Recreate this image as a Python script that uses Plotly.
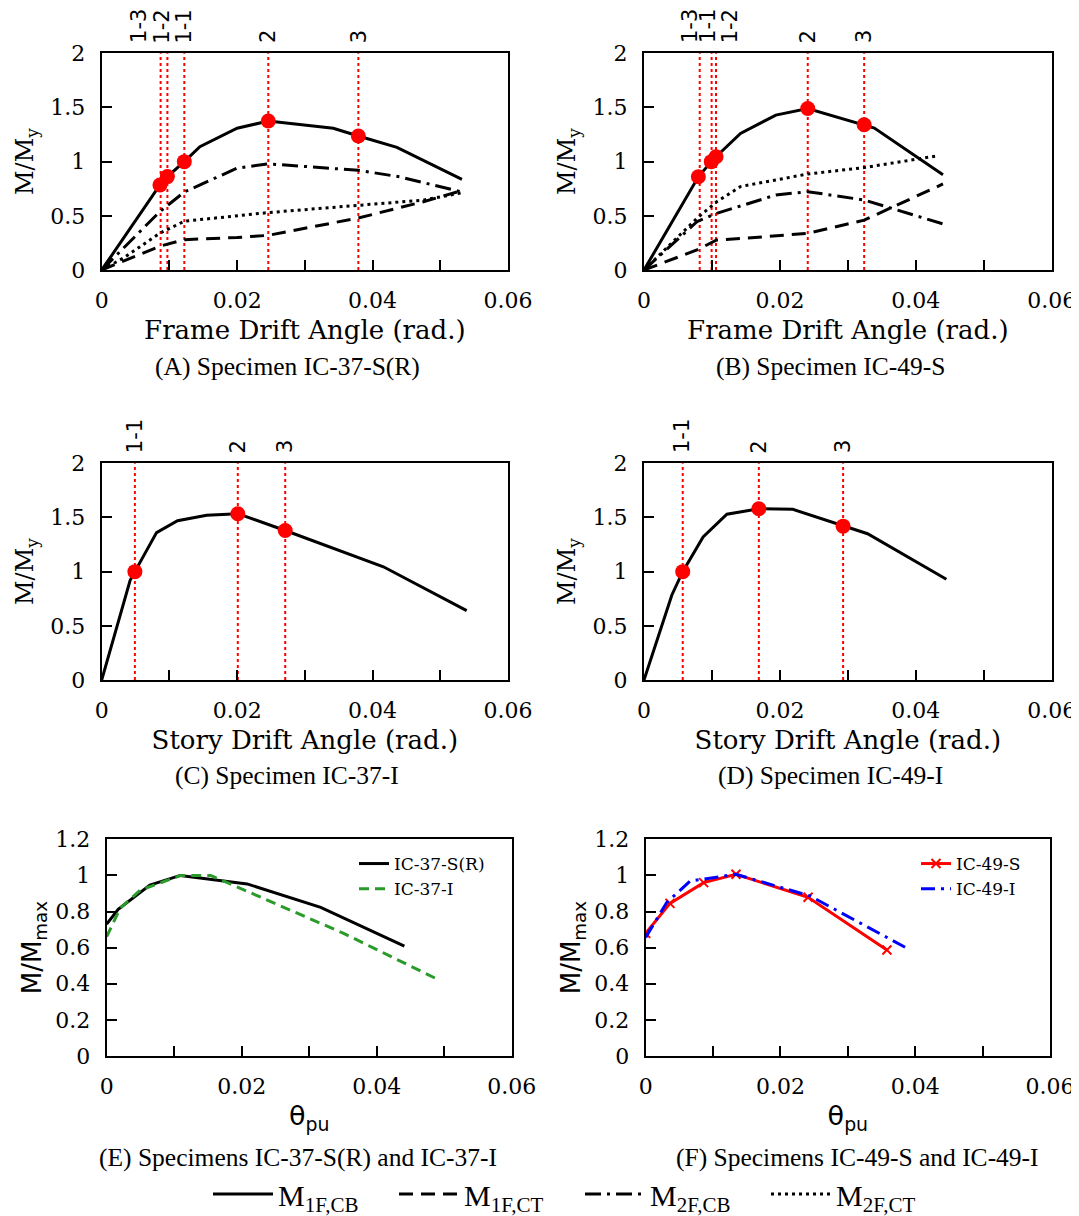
import plotly.graph_objects as go

W, H = 1071, 1216   # figure size; the page body adds an 8 px margin
OFF = 8

# ---------------- Data ----------------
# (A) Specimen IC-37-S(R) - frame drift angle
a_1fcb_x = [0, 0.0086, 0.0097, 0.0122, 0.0145, 0.0200, 0.0246, 0.0342, 0.0379, 0.0436, 0.0532]
a_1fcb_y = [0, 0.785, 0.862, 1.0, 1.138, 1.308, 1.375, 1.308, 1.237, 1.132, 0.837]
a_marker_idx = [1, 2, 3, 6, 8]
a_1fct_x = [0, 0.0086, 0.0122, 0.0200, 0.0246, 0.0379, 0.0475, 0.0530]
a_1fct_y = [0, 0.22, 0.28, 0.30, 0.32, 0.48, 0.63, 0.73]
a_2fcb_x = [0, 0.0086, 0.0122, 0.0200, 0.0246, 0.0379, 0.0440, 0.0532]
a_2fcb_y = [0, 0.54, 0.72, 0.94, 0.98, 0.92, 0.86, 0.72]
a_2fct_x = [0, 0.0032, 0.0086, 0.0122, 0.0246, 0.0379, 0.0475, 0.0530]
a_2fct_y = [0, 0.11, 0.34, 0.45, 0.53, 0.60, 0.645, 0.71]
a_vlines = [0.0087, 0.0097, 0.0122, 0.0246, 0.0379]
a_vlabels = ["1-3", "1-2", "1-1", "2", "3"]

# (B) Specimen IC-49-S
b_1fcb_x = [0, 0.0080, 0.0099, 0.0106, 0.0142, 0.0194, 0.0241, 0.0324, 0.0339, 0.0440]
b_1fcb_y = [0, 0.86, 1.0, 1.045, 1.26, 1.43, 1.49, 1.34, 1.31, 0.88]
b_marker_idx = [1, 2, 3, 6, 7]
b_1fct_x = [0, 0.0078, 0.0107, 0.0142, 0.0241, 0.0324, 0.0440]
b_1fct_y = [0, 0.185, 0.277, 0.29, 0.338, 0.46, 0.794]
b_2fcb_x = [0, 0.0078, 0.0107, 0.0194, 0.0241, 0.0324, 0.0440]
b_2fcb_y = [0, 0.446, 0.523, 0.692, 0.723, 0.646, 0.425]
b_2fct_x = [0, 0.0078, 0.0107, 0.0142, 0.0241, 0.0324, 0.0430]
b_2fct_y = [0, 0.477, 0.63, 0.77, 0.886, 0.945, 1.052]
b_vlines = [0.0082, 0.00995, 0.0106, 0.0241, 0.0324]
b_vlabels = ["1-3", "1-1", "1-2", "2", "3"]

# (C) Specimen IC-37-I - story drift angle
c_x = [0, 0.0042, 0.0049, 0.0081, 0.0112, 0.0155, 0.0201, 0.0271, 0.0416, 0.0539]
c_y = [0, 0.92, 1.0, 1.36, 1.47, 1.52, 1.535, 1.38, 1.045, 0.64]
c_marker_idx = [2, 6, 7]
c_vlines = [0.0049, 0.0201, 0.0271]
c_vlabels = ["1-1", "2", "3"]

# (D) Specimen IC-49-I
d_x = [0, 0.0041, 0.0057, 0.0087, 0.0122, 0.0169, 0.0219, 0.0293, 0.0329, 0.0445]
d_y = [0, 0.785, 1.0, 1.32, 1.53, 1.58, 1.575, 1.42, 1.35, 0.93]
d_marker_idx = [2, 5, 7]
d_vlines = [0.0057, 0.0169, 0.0293]
d_vlabels = ["1-1", "2", "3"]

# (E) M/Mmax vs theta_pu
e_sr_x = [0, 0.0017, 0.0064, 0.0109, 0.0208, 0.0317, 0.0441]
e_sr_y = [0.731, 0.812, 0.947, 1.0, 0.953, 0.823, 0.609]
e_i_x = [0, 0.0020, 0.0050, 0.0109, 0.0154, 0.0198, 0.0272, 0.0351, 0.0490]
e_i_y = [0.661, 0.818, 0.919, 0.999, 1.0, 0.929, 0.809, 0.679, 0.425]

# (F)
f_s_x = [0, 0.0036, 0.0086, 0.0134, 0.0241, 0.0358]
f_s_y = [0.679, 0.845, 0.960, 1.006, 0.879, 0.587]
f_i_x = [0, 0.0031, 0.0066, 0.0134, 0.0244, 0.0385]
f_i_y = [0.657, 0.849, 0.969, 1.006, 0.886, 0.602]

series_names = ["M<sub>1F,CB</sub>", "M<sub>1F,CT</sub>", "M<sub>2F,CB</sub>", "M<sub>2F,CT</sub>"]

captions = ["(A) Specimen IC-37-S(R)", "(B) Specimen IC-49-S",
            "(C) Specimen IC-37-I", "(D) Specimen IC-49-I",
            "(E) Specimens IC-37-S(R) and IC-37-I", "(F) Specimens IC-49-S and IC-49-I"]

# ---------------- Styles ----------------
series_dash = ["solid", "14px,8px", "16px,6px,3px,6px", "3px,4px"]
a_label_shift = [-21, -5, 0, 0, 0]   # pixel nudges so crowded labels don't overlap
b_label_shift = [-9, -3, 14, 0, 0]
c_label_shift = [0, 0, 0]
d_label_shift = [0, 0, 0]

def dx(a, b):
    return [(a - OFF) / W, (b - OFF) / W]

def dy(top, bottom):
    return [1 - (bottom - OFF) / H, 1 - (top - OFF) / H]

def px(x):
    return (x - OFF) / W

def py(y):
    return 1 - (y - OFF) / H

SERIF = "DejaVu Serif"
SANS = "DejaVu Sans"
TIMES = "Liberation Serif"

panels = {
    1: (dx(101.7, 508), dy(53.3, 270)),
    2: (dx(644, 1051.7), dy(53.3, 270)),
    3: (dx(101.7, 508), dy(463.3, 680)),
    4: (dx(644, 1051.7), dy(463.3, 680)),
    5: (dx(106.7, 511.7), dy(839.3, 1056)),
    6: (dx(645.7, 1050), dy(839.3, 1056)),
}

fig = go.Figure()

def ax(n):
    return ("x" if n == 1 else f"x{n}"), ("y" if n == 1 else f"y{n}")

def add_line(n, x, y, name=None, dash="solid", color="black", width=3, legend=None, show=False, mode="lines", marker=None):
    xa, ya = ax(n)
    kw = dict(x=x, y=y, mode=mode, line=dict(color=color, width=width, dash=dash),
              xaxis=xa, yaxis=ya, showlegend=show, name=name or "", hoverinfo="skip")
    if legend:
        kw["legend"] = legend
    if marker:
        kw["marker"] = marker
    fig.add_trace(go.Scatter(**kw))

def add_markers(n, x, y, idx):
    xa, ya = ax(n)
    fig.add_trace(go.Scatter(x=[x[i] for i in idx], y=[y[i] for i in idx], mode="markers",
                             marker=dict(color="red", size=15), xaxis=xa, yaxis=ya,
                             showlegend=False, hoverinfo="skip"))

def add_vlines(n, vals, labels, shifts):
    xa, ya = ax(n)
    for v, lab, s in zip(vals, labels, shifts):
        fig.add_shape(type="line", xref=xa, yref=f"{ya} domain", x0=v, x1=v, y0=0, y1=1,
                      line=dict(color="red", width=2, dash="dot"), layer="below")
        fig.add_annotation(x=v, y=1, xref=xa, yref=f"{ya} domain", text=lab, showarrow=False,
                           textangle=-90, xanchor="center", yanchor="bottom", yshift=8, xshift=s,
                           font=dict(family=SANS, size=21, color="black"))

# Panel A
for i, (xs, ys) in enumerate([(a_1fcb_x, a_1fcb_y), (a_1fct_x, a_1fct_y), (a_2fcb_x, a_2fcb_y), (a_2fct_x, a_2fct_y)]):
    add_line(1, xs, ys, name=series_names[i], dash=series_dash[i], show=True, legend="legend")
add_vlines(1, a_vlines, a_vlabels, a_label_shift)
add_markers(1, a_1fcb_x, a_1fcb_y, a_marker_idx)

# Panel B
for i, (xs, ys) in enumerate([(b_1fcb_x, b_1fcb_y), (b_1fct_x, b_1fct_y), (b_2fcb_x, b_2fcb_y), (b_2fct_x, b_2fct_y)]):
    add_line(2, xs, ys, name=series_names[i], dash=series_dash[i])
add_vlines(2, b_vlines, b_vlabels, b_label_shift)
add_markers(2, b_1fcb_x, b_1fcb_y, b_marker_idx)

# Panel C, D
add_line(3, c_x, c_y)
add_vlines(3, c_vlines, c_vlabels, c_label_shift)
add_markers(3, c_x, c_y, c_marker_idx)
add_line(4, d_x, d_y)
add_vlines(4, d_vlines, d_vlabels, d_label_shift)
add_markers(4, d_x, d_y, d_marker_idx)

# Panel E
add_line(5, e_sr_x, e_sr_y, name="IC-37-S(R)", show=True, legend="legend2", width=3)
add_line(5, e_i_x, e_i_y, name="IC-37-I", dash="10px,6px", color="#2a9a2a", show=True, legend="legend2", width=3)

# Panel F
add_line(6, f_s_x, f_s_y, name="IC-49-S", color="red", show=True, legend="legend3", width=3,
         mode="lines+markers", marker=dict(symbol="x-thin", size=9, line=dict(color="red", width=2), color="red"))
add_line(6, f_i_x, f_i_y, name="IC-49-I", dash="14px,6px,3px,6px", color="blue", show=True, legend="legend3", width=3)

# ---------------- Axes ----------------
tickfont = dict(family=SERIF, size=22, color="black")
for n, (xd, yd) in panels.items():
    xa = "xaxis" if n == 1 else f"xaxis{n}"
    ya = "yaxis" if n == 1 else f"yaxis{n}"
    yname = "y" if n == 1 else f"y{n}"
    xname = "x" if n == 1 else f"x{n}"
    if n <= 2:
        xt = dict(text="Frame Drift Angle (rad.)", font=dict(family=SERIF, size=26, color="black"), standoff=8)
    elif n <= 4:
        xt = dict(text="Story Drift Angle (rad.)", font=dict(family=SERIF, size=26, color="black"), standoff=8)
    else:
        xt = dict(text="θ<sub>pu</sub>", font=dict(family=SANS, size=27, color="black"), standoff=8)
    if n <= 4:
        yt = dict(text="M/M<sub>y</sub>", font=dict(family=SERIF, size=24, color="black"), standoff=10)
        yr, ydt = [0, 2], 0.5
    else:
        yt = dict(text="M/M<sub>max</sub>", font=dict(family=SANS, size=26, color="black"), standoff=6)
        yr, ydt = [0, 1.2], 0.2
    common = dict(showline=True, linecolor="black", linewidth=2, mirror=True, showgrid=False,
                  zeroline=False, ticks="inside", ticklen=10, tickwidth=1.5, tickcolor="black",
                  tickfont=tickfont, ticklabelstandoff=10, automargin=False)
    fig.layout[xa] = dict(domain=xd, range=[0, 0.06], tick0=0, dtick=0.02, anchor=yname, title=xt,
                          minor=dict(dtick=0.01, tick0=0, ticks="inside", ticklen=10, tickwidth=1.5, tickcolor="black"),
                          **common)
    fig.layout[ya] = dict(domain=yd, range=yr, tick0=0, dtick=ydt, anchor=xname, title=yt, **common)

# Captions
cap_pos = [(287, 367), (830, 367), (287, 775), (830, 775), (298, 1157), (857, 1157)]
for txt, (cx, cy) in zip(captions, cap_pos):
    fig.add_annotation(x=px(cx), y=py(cy), xref="paper", yref="paper", text=txt, showarrow=False,
                       xanchor="center", yanchor="middle", font=dict(family=TIMES, size=25.5, color="black"))

fig.update_layout(
    width=W, height=H, margin=dict(l=0, r=0, t=0, b=0, autoexpand=False),
    paper_bgcolor="white", plot_bgcolor="white",
    legend=dict(orientation="h", x=px(580), xanchor="center", y=py(1194), yanchor="middle",
                font=dict(family=TIMES, size=30, color="black"), bgcolor="rgba(0,0,0,0)",
                entrywidth=111, itemwidth=60),
    legend2=dict(x=px(354), y=py(846), xanchor="left", yanchor="top",
                 font=dict(family=SERIF, size=17, color="black"), bgcolor="rgba(0,0,0,0)", tracegroupgap=0),
    legend3=dict(x=px(916), y=py(846), xanchor="left", yanchor="top",
                 font=dict(family=SERIF, size=17, color="black"), bgcolor="rgba(0,0,0,0)", tracegroupgap=0),
)

fig.write_html("out.html")
